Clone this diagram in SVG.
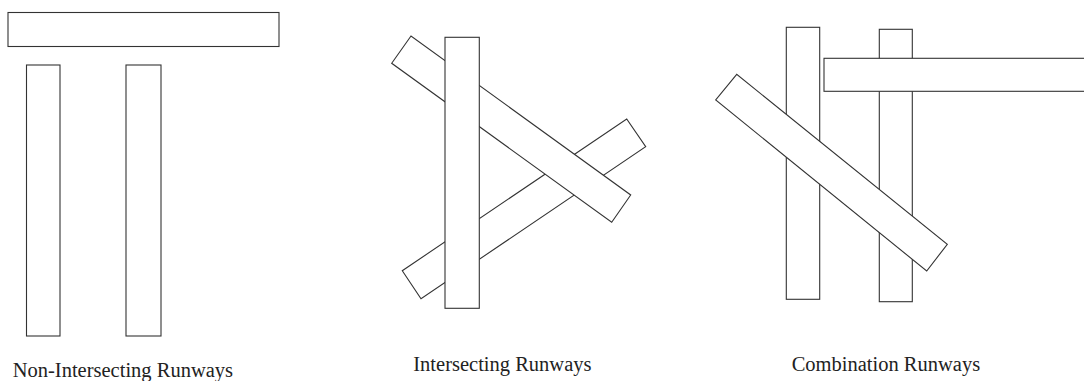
<svg xmlns="http://www.w3.org/2000/svg" width="1084" height="381" viewBox="0 0 1084 381">
<style>
.rw{fill:#ffffff;stroke:#333333;stroke-width:1.1}
.lbl{font-family:"Liberation Serif","Times New Roman",serif;font-size:20.5px;fill:#222222}
</style>
<rect x="0" y="0" width="1084" height="381" fill="#ffffff"/>
<g id="non-intersecting">
<rect class="rw" x="8" y="12.5" width="271" height="34"/>
<rect class="rw" x="26.5" y="65" width="33.5" height="271"/>
<rect class="rw" x="126" y="65" width="35" height="271"/>
<text class="lbl" x="12.7" y="377.3">Non-Intersecting Runways</text>
</g>
<g id="intersecting">
<polygon class="rw" points="402.3,270.7 421,298.7 645.7,146.7 626.7,119"/>
<polygon class="rw" points="411,36 391.7,63.3 611.7,222.3 630.7,195"/>
<rect class="rw" x="445" y="37.3" width="34.3" height="271"/>
<text class="lbl" x="413.3" y="371">Intersecting Runways</text>
</g>
<g id="combination">
<rect class="rw" x="786.3" y="27.3" width="33.4" height="272"/>
<rect class="rw" x="879.3" y="29.3" width="33" height="272.4"/>
<rect class="rw" x="824" y="58.3" width="270" height="33"/>
<polygon class="rw" points="736.7,74.3 715.7,100 926.7,271 947.3,244.3"/>
<text class="lbl" x="791.7" y="371">Combination Runways</text>
</g>
<g id="connectors"></g>
</svg>
